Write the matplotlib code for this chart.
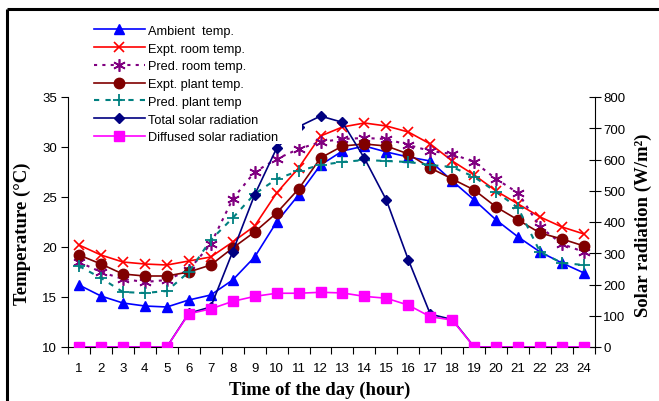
import matplotlib
matplotlib.use("Agg")
import matplotlib.pyplot as plt
from matplotlib.patches import Rectangle
from matplotlib.lines import Line2D

hours = list(range(1, 25))
ambient = [16.2, 15.1, 14.4, 14.1, 14.0, 14.7, 15.2, 16.7, 19.0, 22.5, 25.2, 28.2,
           29.6, 30.1, 29.5, 29.0, 28.6, 26.6, 24.7, 22.7, 21.0, 19.5, 18.4, 17.4]
expt_room = [20.2, 19.2, 18.5, 18.3, 18.2, 18.6, 19.0, 20.5, 22.1, 25.4, 27.9, 31.1,
             32.0, 32.4, 32.1, 31.5, 30.3, 28.6, 27.2, 25.6, 24.3, 23.0, 22.0, 21.3]
pred_room = [18.5, 17.5, 16.8, 16.5, 16.7, 17.7, 20.3, 24.8, 27.5, 28.8, 29.8, 30.5,
             30.8, 30.9, 30.8, 30.2, 29.6, 29.3, 28.5, 26.8, 25.4, 22.0, 20.3, 19.5]
expt_plant = [19.2, 18.3, 17.3, 17.1, 17.1, 17.5, 18.2, 19.9, 21.5, 23.4, 25.8, 28.9,
              30.1, 30.3, 30.1, 29.3, 27.9, 26.8, 25.7, 24.0, 22.7, 21.4, 20.8, 20.1]
pred_plant = [18.1, 16.9, 15.5, 15.4, 15.6, 17.5, 20.7, 22.9, 25.3, 26.8, 27.6, 28.2,
              28.5, 28.7, 28.6, 28.5, 28.2, 28.0, 27.0, 25.5, 23.9, 19.5, 18.4, 18.2]
total_rad = [0, 0, 0, 0, 0, 108, 128, 305, 487, 636, 705, 739,
             719, 604, 470, 279, 105, 88, 0, 0, 0, 0, 0, 0]
diffused_rad = [0, 0, 0, 0, 0, 106, 122, 146, 162, 172, 172, 175,
                173, 162, 156, 134, 97, 86, 0, 0, 0, 0, 0, 0]

labels = ["Ambient  temp.", "Expt. room temp.", "Pred. room temp.", "Expt. plant temp.",
          "Pred. plant temp", "Total solar radiation", "Diffused solar radiation"]

W, H = 659, 402
fig = plt.figure(figsize=(W / 100, H / 100), dpi=100)
L, R, B, T = 68, 595, 348, 98
ax = fig.add_axes([L / W, 1 - B / H, (R - L) / W, (B - T) / H])
ax2 = ax.twinx()

sans = "Liberation Sans"
serif = "Liberation Serif"

lw = 1.2
h1, = ax.plot(hours, ambient, color="#0000FF", lw=lw, marker="^", ms=7.5, label=labels[0])
h2, = ax.plot(hours, expt_room, color="#FF0000", lw=lw, marker="x", ms=7, mew=1.2, label=labels[1])
h3, = ax.plot(hours, pred_room, color="#800080", lw=1.5, ls=(0, (1.5, 2.5)), marker=(6, 2, 0),
              ms=9, mew=1.2, label=labels[2])
h4, = ax.plot(hours, expt_plant, color="#800000", lw=lw, marker="o", ms=7.5, label=labels[3])
h5, = ax.plot(hours, pred_plant, color="#008080", lw=1.5, ls=(0, (2.5, 3)), marker="+",
              ms=9, mew=1.3, label=labels[4])
h6, = ax2.plot(hours, total_rad, color="#000080", lw=lw, marker="D", ms=5, label=labels[5])
h7, = ax2.plot(hours, diffused_rad, color="#FF00FF", lw=lw, marker="s", ms=6.5, label=labels[6])

ax.set_xlim(0.5, 24.5)
ax.set_ylim(10, 35)
ax2.set_ylim(0, 800)
ax.set_yticks([10, 15, 20, 25, 30, 35])
ax2.set_yticks(range(0, 801, 100))
ax.set_xticks([h + 0.5 for h in range(0, 25)])
ax.set_xticklabels([])
ax.set_xticks(hours, minor=True)
ax.set_xticklabels([str(h) for h in hours], minor=True)
ax.tick_params(axis="x", which="major", direction="out", length=5, width=0.8)
ax.tick_params(axis="x", which="minor", length=0, pad=11, labelsize=9.5)
ax.tick_params(axis="y", direction="out", length=5, width=0.8, pad=3, labelsize=9.5)
ax2.tick_params(axis="y", direction="inout", length=8, width=0.8, pad=2, labelsize=9.5)
for t in ax.get_xticklabels(minor=True) + ax.get_yticklabels() + ax2.get_yticklabels():
    t.set_fontfamily(sans)

for a in (ax, ax2):
    a.spines["top"].set_visible(False)
    for s in a.spines.values():
        s.set_linewidth(0.8)
ax.spines["right"].set_visible(False)
ax2.spines["left"].set_visible(False)
ax2.spines["bottom"].set_visible(False)

# axis titles
fig.text(320 / W, 1 - 390 / H, "Time of the day (hour)", ha="center", va="center",
         fontfamily=serif, fontweight="bold", fontsize=13.5)
fig.text(22 / W, 1 - 234 / H, "Temperature (°C)", ha="center", va="center", rotation=90,
         fontfamily=serif, fontweight="bold", fontsize=13.5)
fig.text(643 / W, 1 - 225 / H, "Solar radiation (W/m²)", ha="center", va="center", rotation=90,
         fontfamily=serif, fontweight="bold", fontsize=13.5)

# legend background
fig.patches.append(Rectangle((88 / W, 1 - 145 / H), (302 - 88) / W, (145 - 18) / H,
                             transform=fig.transFigure, facecolor="white", edgecolor="none",
                             zorder=5))
leg = fig.legend(handles=[h1, h2, h3, h4, h5, h6, h7], loc="upper left",
                 bbox_to_anchor=(90 / W, 1 - 22 / H), frameon=False, borderpad=0.3,
                 borderaxespad=0, handlelength=4.0, handletextpad=0.22, labelspacing=0.45,
                 prop={"family": sans, "size": 9.2})
leg.set_zorder(6)

# partial figure border (top and left)
fig.lines.append(Line2D([6.5 / W, 1], [1 - 10 / H, 1 - 10 / H], transform=fig.transFigure,
                        color="black", lw=2.2, solid_capstyle="butt"))
fig.lines.append(Line2D([6.5 / W, 6.5 / W], [0, 1 - 10 / H], transform=fig.transFigure,
                        color="black", lw=2.2, solid_capstyle="butt"))

fig.savefig("out.png", dpi=100)
